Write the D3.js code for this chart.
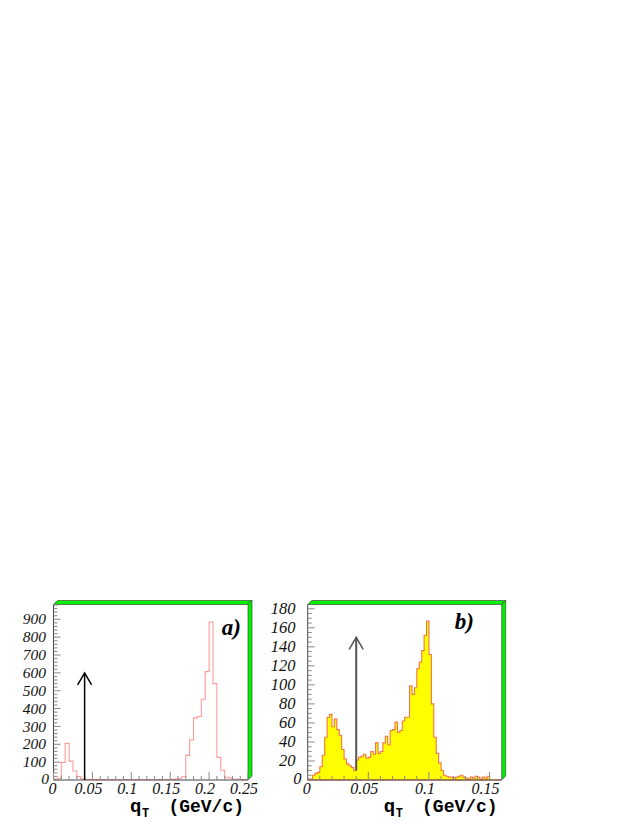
<!DOCTYPE html>
<html><head><meta charset="utf-8">
<script src="https://cdn.jsdelivr.net/npm/d3@7"></script>
<style>html,body{margin:0;padding:0;background:#fff}</style>
</head><body>
<svg id="chart" width="638" height="825"></svg>
<script>
// ---------- data ----------
const binWidthA = 0.005;
const countsA = [5, 10, 98, 205, 106, 50, 19, 7, 4, 3,
  2, 2, 1, 2, 3, 2, 1, 1, 2, 1,
  1, 2, 1, 1, 2, 1, 1, 2, 3, 3,
  4, 5, 8, 20, 138, 224, 348, 356, 452, 607,
  885, 540, 127, 55, 15, 12, 6, 4, 2, 1];
const binWidthB = 0.002;
const countsB = [1, 1, 5, 7, 8, 14, 26, 45, 66, 69,
  56, 64, 53, 47, 32, 22, 17, 15, 13, 10,
  21, 24, 25, 27, 23, 24, 30, 27, 39, 28,
  30, 39, 46, 37, 52, 53, 61, 50, 52, 62,
  66, 66, 99, 90, 97, 117, 124, 136, 152, 167,
  132, 80, 45, 28, 18, 10, 5, 4, 3, 3,
  2, 3, 4, 5, 3, 2, 1, 3, 2, 4,
  3, 1, 3, 2, 4, 0, 0, 0, 0, 0];
const xTicksA = [0, 0.05, 0.1, 0.15, 0.2, 0.25];
const xTickLabelsA = ["0", "0.05", "0.1", "0.15", "0.2", "0.25"];
const yTicksA = [0, 100, 200, 300, 400, 500, 600, 700, 800, 900];
const xTicksB = [0, 0.05, 0.1, 0.15];
const xTickLabelsB = ["0", "0.05", "0.1", "0.15"];
const yTicksB = [0, 20, 40, 60, 80, 100, 120, 140, 160, 180];
const arrowA = [0.04, 0, 600];   // x, y from, y to
const arrowB = [0.04, 10, 150];
const panelNames = ["a)", "b)"];
const titleParts = ["q", "T", "(GeV/c)"];

// ---------- layout ----------
const svg = d3.select("#chart");
svg.append("rect").attr("width", 638).attr("height", 825).attr("fill", "#fff");

const panels = [
  { counts: countsA, bw: binWidthA, xDom: [0, 0.25], yDom: [0, 983],
    left: 53.5, right: 248, top: 604.5, bottom: 780,
    xTicks: xTicksA, xLabels: xTickLabelsA, xMinor: 0.01,
    yTicks: yTicksA, yMinor: 20, yLabelX: 46, zeroDx: 3, yFont: 15.5,
    fill: "none", stroke: "#ff9a9a", strokeW: 1.1,
    arrow: arrowA, arrowColor: "#000", arrowW: 1.5,
    name: panelNames[0], nameX: 241, nameY: 635 },
  { counts: countsB, bw: binWidthB, xDom: [0, 0.16], yDom: [0, 184.5],
    left: 307.7, right: 501.7, top: 604.5, bottom: 780,
    xTicks: xTicksB, xLabels: xTickLabelsB, xMinor: 0.01,
    yTicks: yTicksB, yMinor: 5, yLabelX: 295.5, zeroDx: 6, yFont: 16.5,
    fill: "#ffff00", stroke: "#f4754a", strokeW: 1.1,
    arrow: arrowB, arrowColor: "#555", arrowW: 2,
    name: panelNames[1], nameX: 474, nameY: 629 }
];

panels.forEach(p => {
  const x = d3.scaleLinear().domain(p.xDom).range([p.left, p.right]);
  const y = d3.scaleLinear().domain(p.yDom).range([p.bottom, p.top]);
  const g = svg.append("g");

  // histogram step path
  const pts = [[x(0), y(0)]];
  p.counts.forEach((c, i) => {
    const lo = i * p.bw, hi = (i + 1) * p.bw;
    pts.push([x(lo), y(c)], [x(hi), y(c)]);
  });
  pts.push([x(p.counts.length * p.bw), y(0)]);
  g.append("path")
    .attr("d", d3.line()(pts) + (p.fill !== "none" ? "Z" : ""))
    .attr("fill", p.fill)
    .attr("stroke", p.stroke)
    .attr("stroke-width", p.strokeW)
    .attr("stroke-linejoin", "miter");

  // 3D green frame bars (top and right)
  const d = 4;
  g.append("polygon")
    .attr("points", [[p.left, p.top], [p.left + d, p.top - d], [p.right + d, p.top - d], [p.right, p.top]].join(" "))
    .attr("fill", "#00ee00").attr("stroke", "#333").attr("stroke-width", 0.6);
  g.append("polygon")
    .attr("points", [[p.right, p.top], [p.right + d, p.top - d], [p.right + d, p.bottom - d], [p.right, p.bottom]].join(" "))
    .attr("fill", "#00ee00").attr("stroke", "#333").attr("stroke-width", 0.6);

  // axes lines
  g.append("line").attr("x1", p.left).attr("x2", p.left).attr("y1", p.bottom).attr("y2", p.top)
    .attr("stroke", "#444").attr("stroke-width", 1);
  g.append("line").attr("x1", p.left).attr("x2", p.right).attr("y1", p.bottom).attr("y2", p.bottom)
    .attr("stroke", "#444").attr("stroke-width", 1);

  // y ticks (inside)
  const yMinorVals = d3.range(0, p.yDom[1] + 1e-9, p.yMinor);
  yMinorVals.forEach(v => {
    const major = p.yTicks.some(t => Math.abs(t - v) < 1e-6);
    g.append("line").attr("x1", p.left).attr("x2", p.left + (major ? 7 : 4))
      .attr("y1", y(v)).attr("y2", y(v)).attr("stroke", "#888").attr("stroke-width", 1);
  });
  // x ticks (inside, pointing up)
  const xMinorVals = d3.range(0, p.xDom[1] + 1e-9, p.xMinor);
  xMinorVals.forEach(v => {
    const major = p.xTicks.some(t => Math.abs(t - v) < 1e-6);
    g.append("line").attr("x1", x(v)).attr("x2", x(v))
      .attr("y1", p.bottom).attr("y2", p.bottom - (major ? 8 : 4))
      .attr("stroke", "#888").attr("stroke-width", 1);
  });

  // y labels
  p.yTicks.forEach(t => {
    g.append("text").attr("x", p.yLabelX + (t === 0 ? p.zeroDx : 0)).attr("y", y(t) - (t === 0 ? 1 : 0)).attr("dy", "0.33em")
      .attr("text-anchor", "end")
      .attr("font-family", "'Liberation Serif', 'Times New Roman', serif")
      .attr("font-style", "italic").attr("font-size", p.yFont).attr("fill", "#111")
      .text(t);
  });
  // x labels
  p.xTicks.forEach((t, i) => {
    g.append("text").attr("x", x(t) + (t === 0 ? -1 : -4)).attr("y", 793.5)
      .attr("text-anchor", "middle")
      .attr("font-family", "'Liberation Serif', 'Times New Roman', serif")
      .attr("font-style", "italic").attr("font-size", 16).attr("fill", "#111")
      .text(p.xLabels[i]);
  });

  // arrow
  const ax = x(p.arrow[0]), ay0 = y(p.arrow[1]), ay1 = y(p.arrow[2]);
  g.append("line").attr("x1", ax).attr("x2", ax).attr("y1", ay0).attr("y2", ay1)
    .attr("stroke", p.arrowColor).attr("stroke-width", p.arrowW);
  g.append("path").attr("d", `M${ax - 7},${ay1 + 12}L${ax},${ay1}L${ax + 7},${ay1 + 12}`)
    .attr("fill", "none").attr("stroke", p.arrowColor).attr("stroke-width", 1.5);

  // panel name
  g.append("text").attr("x", p.nameX).attr("y", p.nameY).attr("text-anchor", "end")
    .attr("font-family", "'Liberation Serif', 'Times New Roman', serif")
    .attr("font-style", "italic").attr("font-weight", "bold").attr("font-size", 23).attr("fill", "#000")
    .text(p.name);

  // axis title
  const tEnd = p.right - 4;
  const tf = "'Liberation Mono', 'Courier New', monospace";
  g.append("text").attr("x", tEnd).attr("y", 812).attr("text-anchor", "end")
    .attr("font-family", tf).attr("font-weight", "bold").attr("font-size", 18).attr("fill", "#000")
    .text(titleParts[2]);
  g.append("text").attr("x", tEnd - 114).attr("y", 812)
    .attr("font-family", tf).attr("font-weight", "bold").attr("font-size", 19).attr("fill", "#000")
    .text(titleParts[0]);
  g.append("text").attr("x", tEnd - 102).attr("y", 817)
    .attr("font-family", tf).attr("font-weight", "bold").attr("font-size", 12).attr("fill", "#000")
    .text(titleParts[1]);
});
</script>
</body></html>
